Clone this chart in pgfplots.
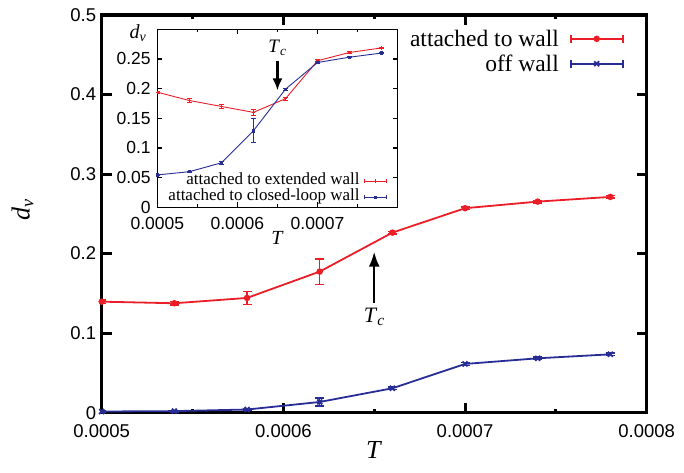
\documentclass[border=0pt]{standalone}
\usepackage{fontspec}
\setmainfont{Liberation Serif}
\newfontfamily\sansf{Liberation Sans}
\usepackage{pgfplots}
\pgfplotsset{compat=1.18}
\usepackage{pgfplotstable}
\usetikzlibrary{arrows.meta}
\definecolor{cred}{RGB}{235,30,40}
\definecolor{cblue}{RGB}{40,45,150}

\pgfplotstableread{
x y e
0.0005 0.1396 0.002
0.00054 0.1376 0.002
0.00058 0.1443 0.008
0.00062 0.1774 0.016
0.00066 0.2264 0.0015
0.0007 0.2571 0.0015
0.00074 0.2654 0.0015
0.00078 0.2713 0.0015
}\mainred
\pgfplotstableread{
x y e
0.0005 0.0015 0.001
0.00054 0.002 0.001
0.00058 0.004 0.001
0.00062 0.0135 0.005
0.00066 0.0307 0.0015
0.0007 0.0613 0.002
0.00074 0.0684 0.0015
0.00078 0.0734 0.0015
}\mainblue
\pgfplotstableread{
x y e
0.0005 0.194 0.002
0.00054 0.180 0.003
0.00058 0.170 0.004
0.00062 0.160 0.005
0.00066 0.183 0.002
0.0007 0.247 0.002
0.00074 0.261 0.001
0.00078 0.2686 0.001
}\insetred
\pgfplotstableread{
x y e
0.0005 0.0546 0.001
0.00054 0.060 0.001
0.00058 0.075 0.003
0.00062 0.129 0.020
0.00066 0.199 0.002
0.0007 0.244 0.002
0.00074 0.253 0.001
0.00078 0.260 0.001
}\insetblue

\begin{document}
\begin{tikzpicture}
\begin{axis}[
  name=main,
  scale only axis,
  width=545pt, height=397.7pt,
  xmin=0.0005, xmax=0.0008, ymin=0, ymax=0.5,
  xtick={0.0005,0.0006,0.0007,0.0008},
  xticklabels={0.0005,0.0006,0.0007,0.0008},
  minor xtick={0.00055,0.00065,0.00075},
  ytick={0,0.1,0.2,0.3,0.4,0.5},
  yticklabels={0,0.1,0.2,0.3,0.4,0.5},
  scaled ticks=false,
  tick align=inside,
  major tick length=10pt, minor tick length=4pt,
  every tick/.style={black, line width=3pt},
  axis line style={line width=3.5pt, line cap=rect},
  tick label style={font=\sansf\fontsize{18.5}{20}\selectfont},
  xticklabel style={yshift=-8pt},
  yticklabel style={xshift=-2pt},
  xlabel={\textit{T}},
  ylabel={\textit{d}\textsubscript{\textit{v}}},
  xlabel style={at={(axis description cs:0.5,-0.0938)}, anchor=center, font=\fontsize{26}{28}\selectfont},
  ylabel style={at={(axis description cs:-0.145,0.51)}, anchor=center, rotate=0, font=\fontsize{26}{28}\selectfont},
  legend cell align=right,
  legend plot pos=right,
  legend style={draw=none, fill=none, anchor=north east, at={(0.958,0.968)},
    inner sep=0pt, font=\fontsize{23.5}{25}\selectfont, row sep=3pt,
    nodes={inner sep=2pt}},
  legend image code/.code={
    \path (0pt,0pt);
    \draw[#1,mark=none] (9pt,0pt) -- (61pt,0pt);
    \draw[#1,mark=none] (9pt,-4pt) -- (9pt,4pt);
    \draw[#1,mark=none] (61pt,-4pt) -- (61pt,4pt);
    \draw[mark repeat=2,mark phase=2,#1] plot coordinates {(9pt,0pt) (35pt,0pt) (61pt,0pt)};
  },
]
\addplot[cred, line width=1.8pt, mark=*, mark size=2.3pt,
  error bars/.cd, y dir=both, y explicit,
  error bar style={line width=1.5pt},
  error mark options={rotate=90, mark size=4.5pt, line width=1.5pt}]
  table[x=x, y=y, y error=e] {\mainred};
\addlegendentry{attached to wall}
\addplot[cblue, line width=1.8pt, mark=x, mark size=3.5pt, mark options={line width=1.8pt},
  error bars/.cd, y dir=both, y explicit,
  error bar style={line width=1.5pt},
  error mark options={rotate=90, mark size=4.5pt, line width=1.5pt}]
  table[x=x, y=y, y error=e] {\mainblue};
\addlegendentry{off wall}
\draw[line width=2.5pt, -{Latex[length=15pt, width=11pt]}] (axis cs:0.00065,0.1376) -- (axis cs:0.00065,0.2025);
\node[font=\fontsize{22}{24}\selectfont] at (axis cs:0.00065,0.12) {\textit{T}\textsubscript{\textit{c}}};
\end{axis}

\begin{axis}[
  name=inset,
  at={(55.6pt,205.4pt)}, anchor=south west,
  scale only axis,
  width=240.3pt, height=178pt,
  axis background/.style={fill=white},
  xmin=0.0005, xmax=0.0008, ymin=0, ymax=0.3,
  xtick={0.0005,0.0006,0.0007},
  xticklabels={0.0005,0.0006,0.0007},
  minor xtick={0.00055,0.00065,0.00075},
  ytick={0,0.05,0.1,0.15,0.2,0.25,0.3},
  yticklabels={0,0.05,0.1,0.15,0.2,0.25,},
  scaled ticks=false,
  tick align=inside,
  major tick length=5pt, minor tick length=3pt,
  every tick/.style={black, line width=1.2pt},
  axis line style={line width=1.5pt, line cap=rect},
  tick label style={font=\sansf\fontsize{17.5}{19}\selectfont, inner sep=0pt},
  xticklabel style={yshift=-9.5pt},
  yticklabel style={xshift=-6.5pt},
  xlabel={\textit{T}},
  ylabel={\textit{d}\textsubscript{\textit{v}}},
  xlabel style={at={(axis description cs:0.5,-0.172)}, anchor=center, font=\fontsize{20}{22}\selectfont},
  ylabel style={at={(axis description cs:-0.08,0.979)}, anchor=center, rotate=-90, font=\fontsize{20}{22}\selectfont},
  legend cell align=right,
  legend plot pos=right,
  legend style={draw=none, fill=none, anchor=south east, at={(0.957,0.015)},
    inner sep=0pt, font=\fontsize{17}{17}\selectfont, row sep=1.7pt,
    nodes={inner sep=0.5pt, text height=10.5pt, text depth=3pt}},
  legend image code/.code={
    \path (0pt,0pt);
    \draw[#1,mark=none] (4pt,0pt) -- (26pt,0pt);
    \draw[#1,mark=none] (4pt,-2pt) -- (4pt,2pt);
    \draw[#1,mark=none] (26pt,-2pt) -- (26pt,2pt);
    \draw[mark repeat=2,mark phase=2,#1] plot coordinates {(4pt,0pt) (15pt,0pt) (26pt,0pt)};
  },
]
\addplot[cred, line width=0.9pt, mark=+, mark size=1.6pt,
  error bars/.cd, y dir=both, y explicit,
  error bar style={line width=0.8pt},
  error mark options={rotate=90, mark size=2.5pt, line width=0.8pt}]
  table[x=x, y=y, y error=e] {\insetred};
\addlegendentry{attached to extended wall}
\addplot[cblue, line width=0.9pt, mark=square*, mark size=1.2pt,
  error bars/.cd, y dir=both, y explicit,
  error bar style={line width=0.8pt},
  error mark options={rotate=90, mark size=2.5pt, line width=0.8pt}]
  table[x=x, y=y, y error=e] {\insetblue};
\addlegendentry{attached to closed-loop wall}
\draw[line width=2.2pt, -{Latex[length=12pt, width=10pt]}] (axis cs:0.00065,0.246) -- (axis cs:0.00065,0.197);
\node[font=\fontsize{19}{21}\selectfont] at (axis cs:0.00065,0.2686) {\textit{T}\textsubscript{\textit{c}}};
\end{axis}
\pgfresetboundingbox
\path[use as bounding box] (-101.7pt,-59.3pt) rectangle (582.3pt,412.7pt);
\end{tikzpicture}
\end{document}
